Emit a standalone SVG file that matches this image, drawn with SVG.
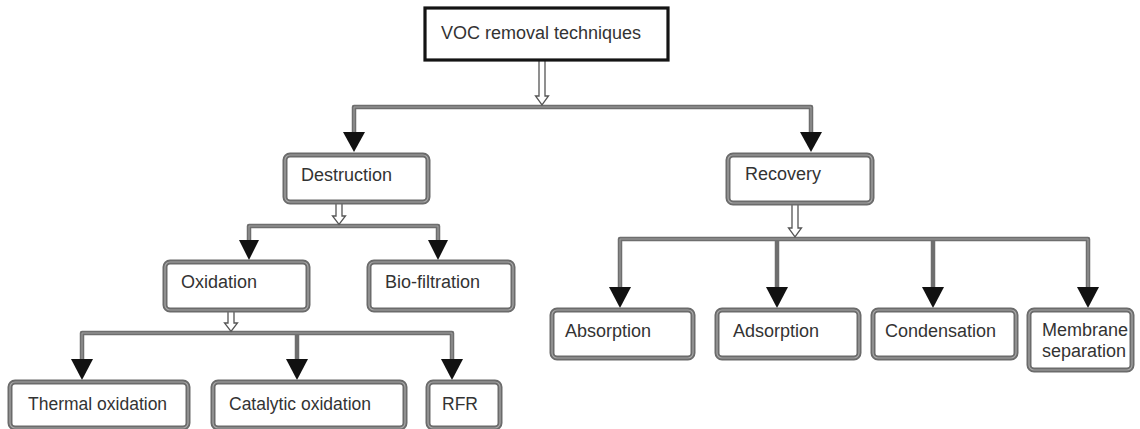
<svg xmlns="http://www.w3.org/2000/svg" width="1140" height="429" viewBox="0 0 1140 429">
<style>
.bg{fill:#ffffff}
.box{fill:#ffffff;stroke:#6b6b6b;stroke-width:5}
.boxin{fill:none;stroke:#a8a8a8;stroke-width:1.2}
.top{fill:#ffffff;stroke:#141414;stroke-width:3.2}
.t{font-family:"Liberation Sans",Arial,sans-serif;font-size:18px;fill:#333333}
.ts{font-family:"Liberation Sans",Arial,sans-serif;font-size:17.5px;fill:#333333}
.ln{fill:none;stroke:#6e6e6e;stroke-width:4.5;stroke-linejoin:round}
.ln2{fill:none;stroke:#a0a0a0;stroke-width:1}
.hd{fill:#111111}
.hol{fill:#ffffff;stroke:#555555;stroke-width:1.3;stroke-linejoin:miter}
</style>
<rect class="bg" x="0" y="0" width="1140" height="429"/>
<g id="connectors">
  <!-- top level -->
  <path class="ln" d="M354,132 V107 H811 V132"/>
  <path class="ln2" d="M354,132 V107 H811 V132"/>
  <polygon class="hd" points="343,132 365,132 354,152"/>
  <polygon class="hd" points="800,132 822,132 811,152"/>
  <polygon class="hol" points="539,60 545,60 545,96 548.5,96 542,105 535.5,96 539,96"/>
  <!-- destruction -->
  <path class="ln" d="M249,241 V226 H438 V241"/>
  <path class="ln2" d="M249,241 V226 H438 V241"/>
  <polygon class="hd" points="239,240 259,240 249,260"/>
  <polygon class="hd" points="428,240 448,240 438,260"/>
  <polygon class="hol" points="336,202 342,202 342,216 345.5,216 339,224.5 332.5,216 336,216"/>
  <!-- oxidation -->
  <path class="ln" d="M82,360 V333 H452 V360 M297,333 V360"/>
  <path class="ln2" d="M82,360 V333 H452 V360"/>
  <polygon class="hd" points="71,359 93,359 82,380"/>
  <polygon class="hd" points="286,359 308,359 297,380"/>
  <polygon class="hd" points="441,359 463,359 452,380"/>
  <polygon class="hol" points="228,310 234,310 234,323 237.5,323 231,331.5 224.5,323 228,323"/>
  <!-- recovery -->
  <path class="ln" d="M620,288 V239 H1088 V288 M777,239 V288 M933,239 V288"/>
  <path class="ln2" d="M620,288 V239 H1088 V288"/>
  <polygon class="hd" points="609,287 631,287 620,308"/>
  <polygon class="hd" points="766,287 788,287 777,308"/>
  <polygon class="hd" points="922,287 944,287 933,308"/>
  <polygon class="hd" points="1077,287 1099,287 1088,308"/>
  <polygon class="hol" points="792,203 798,203 798,228 801.5,228 795,237 788.5,228 792,228"/>
</g>
<g id="n-voc">
  <rect class="top" x="425" y="8" width="243" height="52"/>
  <text class="t" x="441" y="39" font-size="18.4">VOC removal techniques</text>
</g>
<g id="n-destruction">
  <rect class="box" x="285" y="155" width="143" height="47" rx="5"/>
  <rect class="boxin" x="285" y="155" width="143" height="47" rx="5"/>
  <text class="t" x="301" y="181">Destruction</text>
</g>
<g id="n-recovery">
  <rect class="box" x="728" y="155" width="144" height="48" rx="5"/>
  <rect class="boxin" x="728" y="155" width="144" height="48" rx="5"/>
  <text class="t" x="745" y="180">Recovery</text>
</g>
<g id="n-oxidation">
  <rect class="box" x="165" y="262" width="143" height="48" rx="5"/>
  <rect class="boxin" x="165" y="262" width="143" height="48" rx="5"/>
  <text class="t" x="181" y="288">Oxidation</text>
</g>
<g id="n-biofiltration">
  <rect class="box" x="369" y="262" width="144" height="48" rx="5"/>
  <rect class="boxin" x="369" y="262" width="144" height="48" rx="5"/>
  <text class="t" x="385" y="288">Bio-filtration</text>
</g>
<g id="n-absorption">
  <rect class="box" x="552" y="310" width="141" height="48" rx="5"/>
  <rect class="boxin" x="552" y="310" width="141" height="48" rx="5"/>
  <text class="t" x="565" y="337">Absorption</text>
</g>
<g id="n-adsorption">
  <rect class="box" x="717" y="310" width="142" height="48" rx="5"/>
  <rect class="boxin" x="717" y="310" width="142" height="48" rx="5"/>
  <text class="t" x="733" y="337">Adsorption</text>
</g>
<g id="n-condensation">
  <rect class="box" x="873" y="310" width="143" height="48" rx="5"/>
  <rect class="boxin" x="873" y="310" width="143" height="48" rx="5"/>
  <text class="t" x="885" y="337">Condensation</text>
</g>
<g id="n-membrane">
  <rect class="box" x="1029" y="310" width="103" height="60" rx="5"/>
  <rect class="boxin" x="1029" y="310" width="103" height="60" rx="5"/>
  <text class="t" x="1042" y="336">Membrane</text>
  <text class="t" x="1042" y="357">separation</text>
</g>
<g id="n-thermal">
  <rect class="box" x="10" y="382" width="178" height="46" rx="5"/>
  <rect class="boxin" x="10" y="382" width="178" height="46" rx="5"/>
  <text class="ts" x="28" y="410">Thermal oxidation</text>
</g>
<g id="n-catalytic">
  <rect class="box" x="213" y="382" width="192" height="46" rx="5"/>
  <rect class="boxin" x="213" y="382" width="192" height="46" rx="5"/>
  <text class="ts" x="229" y="410">Catalytic oxidation</text>
</g>
<g id="n-rfr">
  <rect class="box" x="428" y="382" width="72" height="46" rx="5"/>
  <rect class="boxin" x="428" y="382" width="72" height="46" rx="5"/>
  <text class="ts" x="442" y="410">RFR</text>
</g>
</svg>
